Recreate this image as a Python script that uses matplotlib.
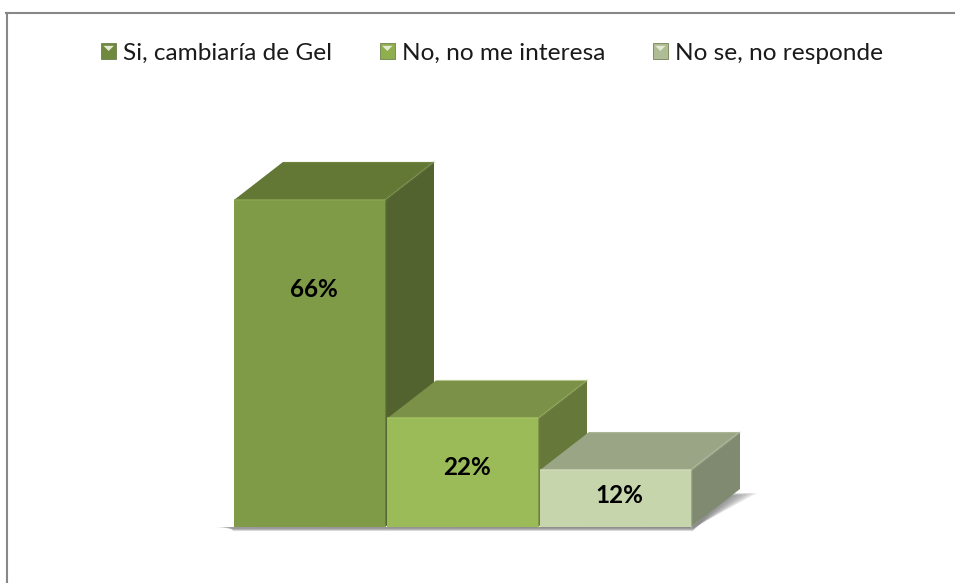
import matplotlib
matplotlib.use('Agg')
import matplotlib.pyplot as plt
from matplotlib.legend_handler import HandlerBase
from matplotlib.lines import Line2D
from matplotlib.patches import Patch, Polygon, Rectangle

categories = ['Si, cambiaría de Gel', 'No, no me interesa', 'No se, no responde']
values = [66, 21.9, 11.5]
labels = ['66%', '22%', '12%']

front_colors = ['#7f9b47', '#9bbb59', '#c6d5ac']
top_colors = ['#647835', '#7a9147', '#99a585']
side_colors = ['#52632f', '#66783a', '#7f8a70']
edge_colors = ['#8aa653', '#a6c464', '#d0dcb9']
legend_colors = ['#6f8a3f', '#8fae4d', '#aebd95']

W, H = 955, 583
PX_X = 153.0   # pixels per category
PX_Y = 4.955   # pixels per percent
X0 = 309.5     # pixel centre of first bar
Y0 = 527.0     # pixel row of the baseline
BAR_W = 151 / PX_X
DX = 49 / PX_X
DY = 38 / PX_Y


class BevelHandler(HandlerBase):
    def create_artists(self, legend, orig, xd, yd, width, height, fontsize, trans):
        front = orig.get_facecolor()
        s = width
        x = -xd
        y = -yd + (height - s) / 2
        sq = Rectangle((x, y), s, s, facecolor=front, edgecolor='#5f6f3a', lw=0.5, transform=trans)
        tri = Polygon([(x + s * 0.16, y + s * 0.84), (x + s * 0.84, y + s * 0.84), (x + s * 0.5, y + s * 0.5)],
                      facecolor='#e4ebd2', edgecolor='none', transform=trans)
        return [sq, tri]


def draw_shadow(ax, n):
    # soft floor shadow, fading out at both ends
    right = n - 1 + BAR_W / 2
    for k in range(1, 9):
        f = k / 8
        left = -0.5 - 19 * f / PX_X
        below = -(1 + 3.5 * (1 - f)) / PX_Y
        tip_x = right + (30 + 36 * f) / PX_X
        tip_y = (30 + 4 * f) / PX_Y
        pts = [(left, -0.2 / PX_Y), (left + 20 * f / PX_X, below), (right + 2 / PX_X, below), (tip_x, tip_y),
               (right + 40 / PX_X, tip_y), (right, 0)]
        ax.add_patch(Polygon(pts, closed=True, facecolor='#606060', edgecolor='none', alpha=0.14, zorder=1))


def draw_bar3d(ax, x, value, i):
    half = BAR_W / 2
    left, right = x - half, x + half
    ax.add_patch(Polygon([(right, 0), (right + DX, DY), (right + DX, value + DY), (right, value)],
                         facecolor=side_colors[i], edgecolor='none', zorder=2))
    ax.add_patch(Polygon([(left, value), (right, value), (right + DX, value + DY), (left + DX, value + DY)],
                         facecolor=top_colors[i], edgecolor='none', zorder=2))
    # bevel highlights
    ax.plot([left + DX, right + DX], [value + DY, value + DY], color=edge_colors[i], lw=1, alpha=0.3,
            zorder=3, solid_capstyle='butt')
    ax.plot([right, right + DX], [value, value + DY], color=edge_colors[i], lw=2, alpha=0.15, zorder=3)
    ax.bar(x, value, width=BAR_W, color=front_colors[i], zorder=3)
    ax.plot([left, right], [value, value], color=edge_colors[i], lw=1.5, alpha=0.7, zorder=4, solid_capstyle='butt')
    ax.plot([right, right], [0, value], color=edge_colors[i], lw=1, alpha=0.4, zorder=4)


def main():
    fig = plt.figure(figsize=(W / 100, H / 100), dpi=100, facecolor='white')
    ax = fig.add_axes([0, 0, 1, 1])
    ax.set_xlim(-X0 / PX_X, (W - X0) / PX_X)
    ax.set_ylim(-(H - Y0) / PX_Y, Y0 / PX_Y)
    ax.axis('off')

    # chart border, only left and top survive in the screenshot
    fig.add_artist(Line2D([7 / W, 7 / W], [0, 1 - 13 / H], color='#888888', lw=1.5))
    fig.add_artist(Line2D([6 / W, 1], [1 - 13 / H, 1 - 13 / H], color='#888888', lw=1.5))

    draw_shadow(ax, len(values))
    for i, v in enumerate(values):
        draw_bar3d(ax, i, v, i)

    # label height inside each bar
    label_pos = [0.725, 0.545, 0.56]
    for i, v in enumerate(values):
        ax.text(i + 4 / PX_X, v * label_pos[i], labels[i], ha='center', va='center',
                fontsize=17.5, fontweight='bold', family='Lato', color='black', zorder=5)

    handles = [Patch(facecolor=c, label=n) for c, n in zip(legend_colors, categories)]
    fig.legend(handles=handles, handler_map={Patch: BevelHandler()}, ncol=3, frameon=False,
               loc='center', bbox_to_anchor=(492 / W, 1 - 53 / H),
               prop={'family': 'Lato', 'size': 17.6}, labelcolor='#1a1a1a',
               handlelength=0.62, handleheight=0.7, handletextpad=0.28, columnspacing=1.95)

    fig.savefig('out.png', dpi=100)


if __name__ == '__main__':
    main()
